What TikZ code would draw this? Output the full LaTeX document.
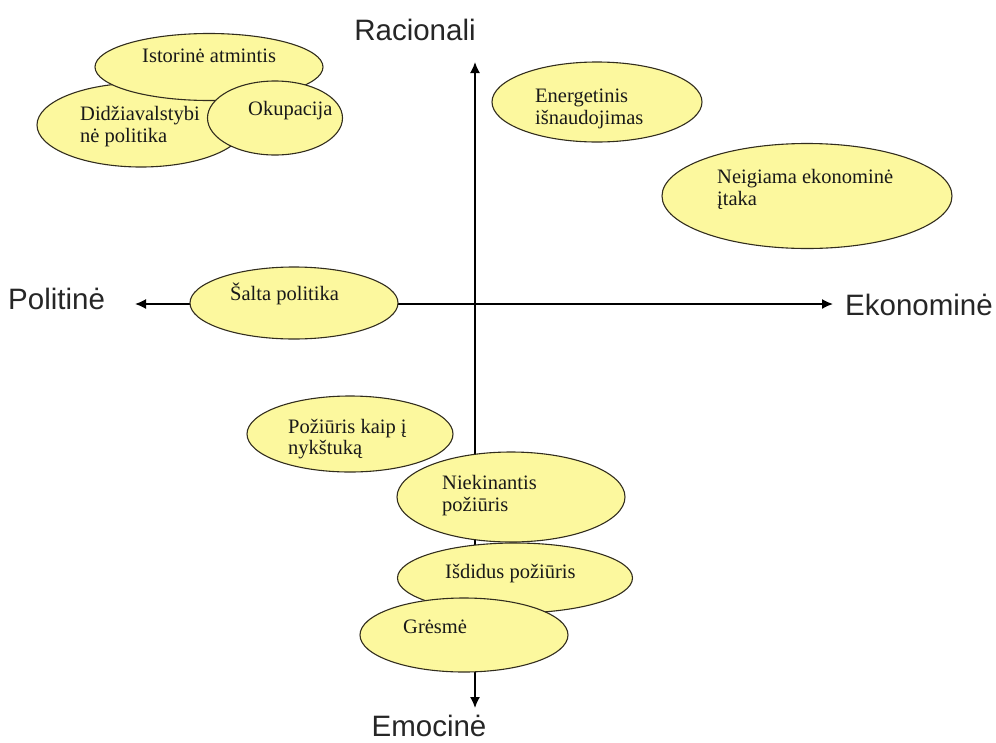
\documentclass[tikz,border=0pt]{standalone}
\usepackage{fontspec}
\setmainfont{Liberation Serif}
\newfontfamily\axisfont{Liberation Sans}
\usetikzlibrary{shapes.geometric,arrows.meta}
\definecolor{bubblefill}{RGB}{252,248,158}
\definecolor{bubbleline}{RGB}{50,45,30}
\begin{document}
\begin{tikzpicture}[x=1pt,y=-1pt,
  axisline/.style={line width=1.6pt, black, {Latex[length=11pt,width=10pt]}-{Latex[length=11pt,width=10pt]}},
  axislabel/.style={inner sep=0pt, font=\axisfont\fontsize{29.5}{32}\selectfont, text=black!85},
  bubble/.style={ellipse, draw=bubbleline, line width=1.1pt, fill=bubblefill, inner sep=0pt},
  bubbletext/.style={anchor=base west, inner sep=0pt, font=\fontsize{20.5}{22}\selectfont, text=black!90}]
\useasboundingbox (0,0) rectangle (996,742);

% axes
\coordinate (top) at (475,62);
\coordinate (bot) at (475,708);
\coordinate (lft) at (135,304);
\coordinate (rgt) at (833,304);
\draw[axisline] (bot) -- (top);
\draw[axisline] (lft) -- (rgt);

\node[axislabel, anchor=base] (racionali) at (415,40) {Racionali};
\node[axislabel, anchor=base west] (politine) at (8,309) {Politinė};
\node[axislabel, anchor=base west] (ekonomine) at (845,315) {Ekonominė};
\node[axislabel, anchor=base] (emocine) at (429,736) {Emocinė};

% political cluster
\node[bubble, minimum width=208pt, minimum height=84pt] (didz) at (141,125) {};
\node[bubbletext] (didzA) at (80,120) {Didžiavalstybi};
\node[bubbletext] (didzB) at (80,142) {nė politika};

\node[bubble, minimum width=228pt, minimum height=67pt] (istor) at (209,67) {};
\node[bubbletext] (istorA) at (142,62) {Istorinė atmintis};

\node[bubble, minimum width=135pt, minimum height=74pt] (okup) at (275,118) {};
\node[bubbletext] (okupA) at (248,115) {Okupacija};

% economic side
\node[bubble, minimum width=210pt, minimum height=80pt] (energ) at (597,102) {};
\node[bubbletext] (energA) at (535,102) {Energetinis};
\node[bubbletext] (energB) at (535,124) {išnaudojimas};

\node[bubble, minimum width=290pt, minimum height=105pt] (neig) at (807,196) {};
\node[bubbletext] (neigA) at (717,183) {Neigiama ekonominė};
\node[bubbletext] (neigB) at (717,205) {įtaka};

\node[bubble, minimum width=208pt, minimum height=72pt] (salta) at (294,303) {};
\node[bubbletext] (saltaA) at (230,300) {Šalta politika};

% emotional side
\node[bubble, minimum width=206pt, minimum height=76pt] (pozi) at (350,434) {};
\node[bubbletext] (poziA) at (288,433) {Požiūris kaip į};
\node[bubbletext] (poziB) at (288,454) {nykštuką};

\node[bubble, minimum width=228pt, minimum height=90pt] (niek) at (511,497) {};
\node[bubbletext] (niekA) at (442,489) {Niekinantis};
\node[bubbletext] (niekB) at (442,511) {požiūris};

\node[bubble, minimum width=235pt, minimum height=70pt] (isdid) at (515,578) {};
\node[bubbletext] (isdidA) at (445,578) {Išdidus požiūris};

\node[bubble, minimum width=208pt, minimum height=74pt] (gresme) at (464,635) {};
\node[bubbletext] (gresmeA) at (403,633) {Grėsmė};
\end{tikzpicture}
\end{document}
